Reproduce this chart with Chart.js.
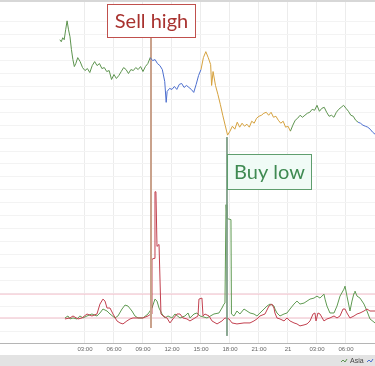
<!DOCTYPE html>
<html lang="en">
<head>
  <meta charset="UTF-8">
  <title>Sell high, buy low</title>
  <script src="https://cdn.jsdelivr.net/npm/chart.js@4"></script>
  <style>
    html, body { margin: 0; padding: 0; background: #fff; }
    #wrap { width: 375px; height: 366px; }
  </style>
</head>
<body>
  <div id="wrap"><canvas id="chart" width="375" height="366"></canvas></div>

  <script>
    // time is in hours from midnight of the first day, 24 = next midnight ("21")
    const priceTimes = [0.4, 0.55, 0.7, 0.85, 1.0, 1.15, 1.3, 1.45, 1.6, 1.75, 1.9, 2.05, 2.25,
      2.5, 2.75, 3.0, 3.25, 3.5, 3.75, 4.0, 4.25, 4.5, 4.75, 5.0, 5.25, 5.5, 5.75, 6.0, 6.25, 6.5, 6.75,
      7.0, 7.25, 7.5, 7.75, 8.0, 8.25, 8.5, 8.75, 9.0, 9.25, 9.5, 9.75, 10.0, 10.25, 10.5, 10.75, 11.0, 11.25,
      11.4, 11.5, 11.75, 12.0, 12.25, 12.5, 12.75, 13.0, 13.25, 13.5, 13.75, 14.0, 14.25, 14.5, 14.75, 15.0,
      15.25, 15.5, 15.75, 16.0, 16.1, 16.25, 16.5, 16.75, 17.0, 17.25, 17.5, 17.75, 18.0, 18.25, 18.5, 18.75,
      19.0, 19.25, 19.5, 19.75, 20.0, 20.25, 20.5, 20.75, 21.0, 21.25, 21.5, 21.75, 22.0, 22.25, 22.5, 22.75,
      23.0, 23.25, 23.5, 23.75, 24.0, 24.25, 24.5, 24.75, 25.0, 25.25, 25.5, 25.75, 26.0, 26.25, 26.5, 26.75,
      27.0, 27.25, 27.5, 27.75, 28.0, 28.25, 28.5, 28.75, 29.0, 29.25, 29.5, 29.75, 30.0, 30.25, 30.5, 30.75,
      31.0, 31.25, 31.5, 31.75, 32.0, 32.25, 32.5, 32.75, 33.0];
    // price in points
    const prices = [307, 305, 309, 307, 317, 326, 317, 310, 297, 287, 280, 283, 289,
      285, 279, 276, 278, 274, 281, 285, 281, 283, 278, 279, 275, 276, 267, 272, 268, 271, 275,
      279, 277, 273, 277, 276, 279, 277, 280, 275, 280, 283, 289, 286, 287, 283, 281, 277, 265,
      244, 255, 258, 257, 260, 257, 262, 263, 259, 261, 259, 257, 254, 262, 271, 277,
      289, 295, 289, 282, 261, 275, 261, 252, 242, 231, 221, 211, 215, 220, 217, 224,
      219, 223, 220, 222, 219, 225, 223, 228, 230, 231, 233, 234, 231, 234, 229, 230,
      226, 223, 225, 219, 220, 215, 221, 226, 228, 231, 229, 231, 233, 234, 237, 236,
      241, 235, 238, 239, 234, 230, 231, 229, 234, 237, 239, 241, 238, 235, 231, 230,
      226, 224, 223, 221, 220, 219, 217, 214, 212];

    // trading sessions (line colour changes)
    const sessionNames = ['Asia', 'Europe', 'America', 'Asia', 'Europe'];
    const sessionStarts = [0, 9.75, 14.9, 24.2, 31.2];

    // the two indicators in the lower panel
    const redTimes = [0.93, 1.45, 1.76, 2.28, 2.69, 3.21, 3.72, 4.24, 4.55, 4.86,
      5.07, 5.28, 5.59, 5.90, 6.31, 6.62, 6.93, 7.34, 7.66, 7.97,
      8.48, 9.00, 9.52, 9.83, 9.93, 10.14, 10.24, 10.34, 10.45, 10.66,
      10.86, 11.07, 11.48, 11.79, 12.10, 12.52, 12.83, 13.14, 13.55, 13.86,
      14.38, 14.69, 14.79, 15.10, 15.21, 15.41, 15.83, 16.14, 16.66, 17.17,
      17.48, 17.90, 18.21, 18.72, 19.45, 20.07, 20.48, 20.79, 21.10, 21.62,
      22.03, 22.34, 22.55, 22.65, 22.86, 23.17, 23.59, 23.90, 24.21, 24.62,
      24.93, 25.24, 25.66, 25.97, 26.28, 26.59, 26.79, 26.90, 27.10, 27.31,
      27.72, 28.03, 28.34, 28.76, 29.07, 29.38, 29.69, 29.90, 30.10, 30.41,
      30.83, 31.14, 31.45, 31.86, 32.17, 32.48, 33.00];
    const redValues = [1, 2, 4, 1, 2, 6, 4, 6, 16, 21,
      19, 12, 12, 6, -1, -3, -4, -1, 1, 2,
      2, 2, 4, 6, 61, 62, 129, 129, 74, 76,
      6, 4, 2, -3, 1, 6, 6, 2, 1, -1,
      2, 4, 21, 22, 4, 6, 4, -1, -4, -1,
      2, 1, -3, -4, -3, -3, -1, 1, 4, 6,
      14, 16, 12, 7, 2, 1, -1, 2, -1, -3,
      -4, -6, -5, -4, -1, 6, 7, -1, 7, 6,
      -1, 1, 2, 4, 2, 4, 11, 11, 7, 2,
      4, 6, 7, 9, 11, 9, 9];
    const greenTimes = [0.93, 1.24, 1.45, 1.76, 2.17, 2.48, 2.79, 3.21, 3.72, 4.24,
      4.55, 4.86, 5.28, 5.59, 6.10, 6.41, 6.83, 7.14, 7.45, 7.86,
      8.17, 8.48, 9.00, 9.52, 9.93, 10.24, 10.45, 10.66, 10.97, 11.28,
      11.59, 12.00, 12.31, 12.83, 13.34, 13.66, 13.86, 14.28, 14.59, 14.90,
      15.62, 16.34, 16.86, 17.17, 17.38, 17.48, 17.59, 17.69, 18.10, 18.15,
      18.41, 18.72, 19.03, 19.45, 19.76, 20.07, 20.48, 20.79, 21.10, 21.52,
      21.83, 22.14, 22.55, 22.65, 22.86, 23.17, 23.59, 23.90, 24.21, 24.62,
      24.93, 25.24, 25.66, 25.97, 26.28, 26.69, 27.00, 27.31, 27.72, 27.83,
      28.03, 28.34, 28.76, 29.07, 29.38, 29.79, 29.90, 30.10, 30.31, 30.41,
      30.62, 30.83, 30.93, 31.14, 31.45, 31.86, 32.17, 32.48, 33.00];
    const greenValues = [2, 4, 1, 2, 1, 4, 2, 4, 6, 4,
      7, 11, 9, 6, 2, 4, 11, 15, 14, 9,
      4, 2, 2, 6, 12, 21, 19, 12, 6, 2,
      4, 2, 6, 2, 4, 7, 2, 6, 7, 4,
      2, 6, 7, 12, 16, 17, 116, 102, 101, 6,
      4, 9, 6, 11, 9, 7, 6, 4, 7, 11,
      14, 16, 14, 11, 7, 4, 6, 7, 11, 16,
      19, 16, 17, 19, 21, 22, 24, 22, 26, 21,
      14, 7, 7, 14, 24, 31, 34, 24, 14, 9,
      19, 27, 29, 24, 22, 16, 9, 1, -3];
    const indicatorLevels = [26, 2];

    // signals: vertical marker lines and their label boxes
    const signalLabels = ['Sell high', 'Buy low'];
    const signalHours = [9.83, 17.69];
    const signalLineTop = [309, 209];
    const signalLineBottom = [17, 9];
    const boxHours = [5.28, 17.69];
    const boxTops = [343, 192];

    // x axis ticks
    const tickHours = [3, 6, 9, 12, 15, 18, 21, 24, 27, 30];
    const tickLabels = ['03:00', '06:00', '09:00', '12:00', '15:00', '18:00', '21:00', '21', '03:00', '06:00'];

    const sessionColors = ['#5d944f', '#4d6fcf', '#d6a23e', '#5d944f', '#4d6fcf'];
    const signalStyle = [
      { line: '#c9a28c', lineWidth: 2, border: '#c0504d', fill: '#ffffff', text: '#a8322f', w: 88, h: 33 },
      { line: '#7c9c84', lineWidth: 1, border: '#5f9e6e', fill: '#f0fbf6', text: '#3f8a52', w: 84, h: 35 }
    ];

    function sessionColor(h) {
      let c = sessionColors[0];
      sessionStarts.forEach((s, i) => { if (h >= s) c = sessionColors[i]; });
      return c;
    }

    const datasets = [];
    datasets.push({
      label: 'price',
      data: priceTimes.map((t, i) => ({ x: t, y: prices[i] })),
      yAxisID: 'yPrice',
      borderWidth: 1,
      borderColor: sessionColors[0],
      segment: { borderColor: ctx => sessionColor(ctx.p0.parsed.x) },
      order: 1
    });
    signalHours.forEach((h, i) => {
      datasets.push({
        label: signalLabels[i],
        data: [{ x: h, y: signalLineTop[i] }, { x: h, y: signalLineBottom[i] }],
        yAxisID: 'yPrice',
        borderColor: signalStyle[i].line,
        borderWidth: signalStyle[i].lineWidth,
        order: 2
      });
    });
    datasets.push({
      label: 'red',
      data: redTimes.map((t, i) => ({ x: t, y: redValues[i] })),
      yAxisID: 'yInd',
      borderColor: '#c2404f',
      borderWidth: 1,
      order: 3
    });
    datasets.push({
      label: 'green',
      data: greenTimes.map((t, i) => ({ x: t, y: greenValues[i] })),
      yAxisID: 'yInd',
      borderColor: '#5f9a52',
      borderWidth: 1,
      order: 3
    });
    indicatorLevels.forEach(v => {
      datasets.push({
        label: 'level',
        data: [{ x: -6, y: v }, { x: 34, y: v }],
        yAxisID: 'yInd',
        borderColor: '#f3bfcb',
        borderWidth: 1,
        order: 4
      });
    });

    const decor = {
      id: 'decor',
      beforeDraw(chart) {
        const c = chart.ctx;
        c.save();
        c.fillStyle = '#ffffff';
        c.fillRect(0, 0, chart.width, chart.height);
        c.restore();
      },
      afterDatasetsDraw(chart) {
        const c = chart.ctx;
        const x = chart.scales.x, y = chart.scales.yPrice;
        c.save();
        signalLabels.forEach((txt, i) => {
          const st = signalStyle[i];
          const left = Math.round(x.getPixelForValue(boxHours[i])) + 0.5;
          const top = Math.round(y.getPixelForValue(boxTops[i])) + 0.5;
          c.fillStyle = st.fill;
          c.fillRect(left, top, st.w, st.h);
          c.strokeStyle = st.border;
          c.lineWidth = 1;
          c.strokeRect(left, top, st.w, st.h);
          c.fillStyle = st.text;
          c.font = '20px Lato';
          c.textAlign = 'center';
          c.textBaseline = 'middle';
          c.fillText(txt, left + st.w / 2, top + st.h / 2 + 1);
        });
        c.restore();
      },
      afterDraw(chart) {
        const c = chart.ctx;
        const W = chart.width, H = chart.height;
        c.save();
        c.fillStyle = '#d7d7d7';
        c.fillRect(0, 0, W, 2);
        c.fillStyle = '#e3e3e3';
        c.fillRect(0, H - 11, W, 11);
        // legend: Asia, then Europe cut off at the edge
        const items = [[341, sessionColors[0], 'Asia'], [367, sessionColors[1], '']];
        items.forEach(([lx, col, name]) => {
          c.strokeStyle = col;
          c.lineWidth = 1;
          c.beginPath();
          c.moveTo(lx, H - 4);
          c.lineTo(lx + 2, H - 6);
          c.lineTo(lx + 4, H - 4);
          c.lineTo(lx + 6, H - 7);
          c.stroke();
          if (name) {
            c.fillStyle = '#444';
            c.font = '7px "Liberation Sans"';
            c.textBaseline = 'middle';
            c.fillText(name, lx + 9, H - 5);
          }
        });
        c.restore();
      }
    };

    new Chart(document.getElementById('chart'), {
      type: 'line',
      data: { datasets: datasets },
      options: {
        responsive: false,
        animation: false,
        devicePixelRatio: 1,
        layout: { padding: { left: 0, right: 0, top: 0, bottom: 11 } },
        elements: { point: { radius: 0 }, line: { tension: 0 } },
        plugins: { legend: { display: false }, tooltip: { enabled: false } },
        scales: {
          x: {
            type: 'linear',
            min: -5.79,
            max: 33,
            afterBuildTicks: axis => { axis.ticks = tickHours.map(v => ({ value: v })); },
            ticks: {
              callback: (v, i) => tickLabels[i],
              autoSkip: false,
              maxRotation: 0,
              padding: 2,
              color: '#666',
              font: { size: 6, family: 'Liberation Sans' }
            },
            grid: { color: '#ececec', drawTicks: false },
            border: { color: '#b5b5b5' }
          },
          yPrice: {
            position: 'left',
            min: 1,
            max: 347,
            ticks: { display: false, stepSize: 13 },
            grid: { color: '#f3f3f3', drawTicks: false },
            border: { display: false }
          },
          yInd: {
            position: 'right',
            display: false,
            min: -24,
            max: 322
          }
        }
      },
      plugins: [decor]
    });
  </script>
</body>
</html>
